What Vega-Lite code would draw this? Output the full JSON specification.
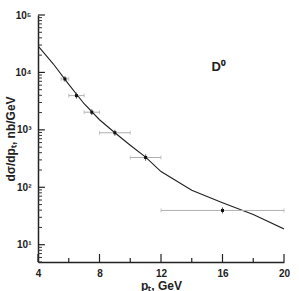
{
  "$schema": "https://vega.github.io/schema/vega-lite/v6.json",
  "width": 246,
  "height": 247,
  "autosize": "none",
  "padding": {"left": 38, "top": 15, "right": 15, "bottom": 29},
  "config": {
    "view": {"stroke": null},
    "font": "Liberation Sans",
    "axis": {
      "domainColor": "#222",
      "domainWidth": 1.5,
      "ticks": false,
      "labelFont": "Liberation Sans",
      "labelFontWeight": "bold",
      "labelFontSize": 10,
      "labelColor": "#222",
      "labelOverlap": false,
      "labelBound": false,
      "titleFont": "Liberation Sans",
      "titleFontWeight": "bold",
      "titleFontSize": 12,
      "titleColor": "#222",
      "grid": false
    }
  },
  "datasets": {
    "meas": [
      {"x": 5.75, "xlo": 5.5, "xhi": 6, "y": 7700, "ylo": 6900, "yhi": 8600},
      {"x": 6.5, "xlo": 6, "xhi": 7, "y": 3950, "ylo": 3500, "yhi": 4450},
      {"x": 7.5, "xlo": 7, "xhi": 8, "y": 2030, "ylo": 1800, "yhi": 2280},
      {"x": 9, "xlo": 8, "xhi": 10, "y": 890, "ylo": 790, "yhi": 1000},
      {"x": 11, "xlo": 10, "xhi": 12, "y": 330, "ylo": 290, "yhi": 375},
      {"x": 16, "xlo": 12, "xhi": 20, "y": 39.5, "ylo": 35, "yhi": 44.5}
    ],
    "curve": [
      {"x": 4, "y": 29000},
      {"x": 5, "y": 14000},
      {"x": 6, "y": 6200},
      {"x": 7, "y": 2850},
      {"x": 8, "y": 1500},
      {"x": 9, "y": 890},
      {"x": 10, "y": 540},
      {"x": 11, "y": 335},
      {"x": 12, "y": 188},
      {"x": 14, "y": 89},
      {"x": 16, "y": 54},
      {"x": 18, "y": 33.6},
      {"x": 20, "y": 18.8}
    ],
    "label": [
      {"x": 15.75, "y": 12500, "text": "D⁰"}
    ],
    "xmajor": [{"v": 4}, {"v": 8}, {"v": 12}, {"v": 16}, {"v": 20}],
    "xminor": [{"v": 6}, {"v": 10}, {"v": 14}, {"v": 18}],
    "ymajor": [{"v": 10}, {"v": 100}, {"v": 1000}, {"v": 10000}, {"v": 100000}],
    "yminor": [
      {"v": 5}, {"v": 6}, {"v": 7}, {"v": 8}, {"v": 9},
      {"v": 20}, {"v": 30}, {"v": 40}, {"v": 50}, {"v": 60}, {"v": 70}, {"v": 80}, {"v": 90},
      {"v": 200}, {"v": 300}, {"v": 400}, {"v": 500}, {"v": 600}, {"v": 700}, {"v": 800}, {"v": 900},
      {"v": 2000}, {"v": 3000}, {"v": 4000}, {"v": 5000}, {"v": 6000}, {"v": 7000}, {"v": 8000}, {"v": 9000},
      {"v": 20000}, {"v": 30000}, {"v": 40000}, {"v": 50000}, {"v": 60000}, {"v": 70000}, {"v": 80000}, {"v": 90000}
    ]
  },
  "layer": [
    {
      "data": {"name": "curve"},
      "mark": {"type": "line", "color": "#222", "strokeWidth": 1.1, "clip": true},
      "encoding": {
        "x": {
          "field": "x", "type": "quantitative", "title": "pₜ, GeV",
          "scale": {"domain": [4, 20], "nice": false, "zero": false},
          "axis": {
            "values": [4, 6, 8, 10, 12, 14, 16, 18, 20],
            "labelOverlap": false,
            "labelFlush": false,
            "labelPadding": 6,
            "titlePadding": 2
          }
        },
        "y": {
          "field": "y", "type": "quantitative", "title": "dσ/dpₜ, nb/GeV",
          "scale": {"type": "log", "domain": [5, 100000], "nice": false},
          "axis": {
            "values": [10, 100, 1000, 10000, 100000],
            "labelOverlap": false,
            "labelFlush": false,
            "labelExpr": "datum.value === 10 ? '10¹' : datum.value === 100 ? '10²' : datum.value === 1000 ? '10³' : datum.value === 10000 ? '10⁴' : datum.value === 100000 ? '10⁵' : ''",
            "labelPadding": 7,
            "titlePadding": -3
          }
        }
      }
    },
    {
      "data": {"name": "xmajor"},
      "mark": {"type": "rule", "strokeWidth": 1.2, "color": "#222"},
      "encoding": {
        "x": {"field": "v", "type": "quantitative", "title": "pₜ, GeV"},
        "y": {"datum": 5, "type": "quantitative", "title": "dσ/dpₜ, nb/GeV"},
        "y2": {"datum": 6.9}
      }
    },
    {
      "data": {"name": "xminor"},
      "mark": {"type": "rule", "strokeWidth": 1.2, "color": "#222"},
      "encoding": {
        "x": {"field": "v", "type": "quantitative", "title": "pₜ, GeV"},
        "y": {"datum": 5, "type": "quantitative", "title": "dσ/dpₜ, nb/GeV"},
        "y2": {"datum": 5.87}
      }
    },
    {
      "data": {"name": "ymajor"},
      "mark": {"type": "rule", "strokeWidth": 1.2, "color": "#222"},
      "encoding": {
        "x": {"datum": 4, "type": "quantitative", "title": "pₜ, GeV"},
        "x2": {"datum": 4.45},
        "y": {"field": "v", "type": "quantitative", "title": "dσ/dpₜ, nb/GeV"}
      }
    },
    {
      "data": {"name": "yminor"},
      "mark": {"type": "rule", "strokeWidth": 1, "color": "#333"},
      "encoding": {
        "x": {"datum": 4, "type": "quantitative", "title": "pₜ, GeV"},
        "x2": {"datum": 4.26},
        "y": {"field": "v", "type": "quantitative", "title": "dσ/dpₜ, nb/GeV"}
      }
    },
    {
      "data": {"name": "meas"},
      "mark": {"type": "rule", "color": "#b0b0b0", "strokeWidth": 1},
      "encoding": {
        "x": {"field": "xlo", "type": "quantitative", "title": "pₜ, GeV"},
        "x2": {"field": "xhi", "title": "pₜ, GeV"},
        "y": {"field": "y", "type": "quantitative", "title": "dσ/dpₜ, nb/GeV"}
      }
    },
    {
      "data": {"name": "meas"},
      "mark": {"type": "point", "shape": "M0,-1L0,1", "filled": false, "stroke": "#b0b0b0", "strokeWidth": 1, "size": 16},
      "encoding": {
        "x": {"field": "xlo", "type": "quantitative", "title": "pₜ, GeV"},
        "y": {"field": "y", "type": "quantitative", "title": "dσ/dpₜ, nb/GeV"}
      }
    },
    {
      "data": {"name": "meas"},
      "mark": {"type": "point", "shape": "M0,-1L0,1", "filled": false, "stroke": "#b0b0b0", "strokeWidth": 1, "size": 16},
      "encoding": {
        "x": {"field": "xhi", "type": "quantitative", "title": "pₜ, GeV"},
        "y": {"field": "y", "type": "quantitative", "title": "dσ/dpₜ, nb/GeV"}
      }
    },
    {
      "data": {"name": "meas"},
      "mark": {"type": "rule", "color": "#555", "strokeWidth": 1},
      "encoding": {
        "x": {"field": "x", "type": "quantitative", "title": "pₜ, GeV"},
        "y": {"field": "ylo", "type": "quantitative", "title": "dσ/dpₜ, nb/GeV"},
        "y2": {"field": "yhi", "title": "dσ/dpₜ, nb/GeV"}
      }
    },
    {
      "data": {"name": "meas"},
      "mark": {"type": "point", "shape": "square", "filled": true, "color": "#111", "size": 9, "opacity": 1},
      "encoding": {
        "x": {"field": "x", "type": "quantitative", "title": "pₜ, GeV"},
        "y": {"field": "y", "type": "quantitative", "title": "dσ/dpₜ, nb/GeV"}
      }
    },
    {
      "data": {"name": "label"},
      "mark": {"type": "text", "font": "Liberation Sans", "fontWeight": "bold", "fontSize": 13, "color": "#222", "align": "center", "baseline": "middle"},
      "encoding": {
        "x": {"field": "x", "type": "quantitative", "title": "pₜ, GeV"},
        "y": {"field": "y", "type": "quantitative", "title": "dσ/dpₜ, nb/GeV"},
        "text": {"field": "text"}
      }
    }
  ]
}
